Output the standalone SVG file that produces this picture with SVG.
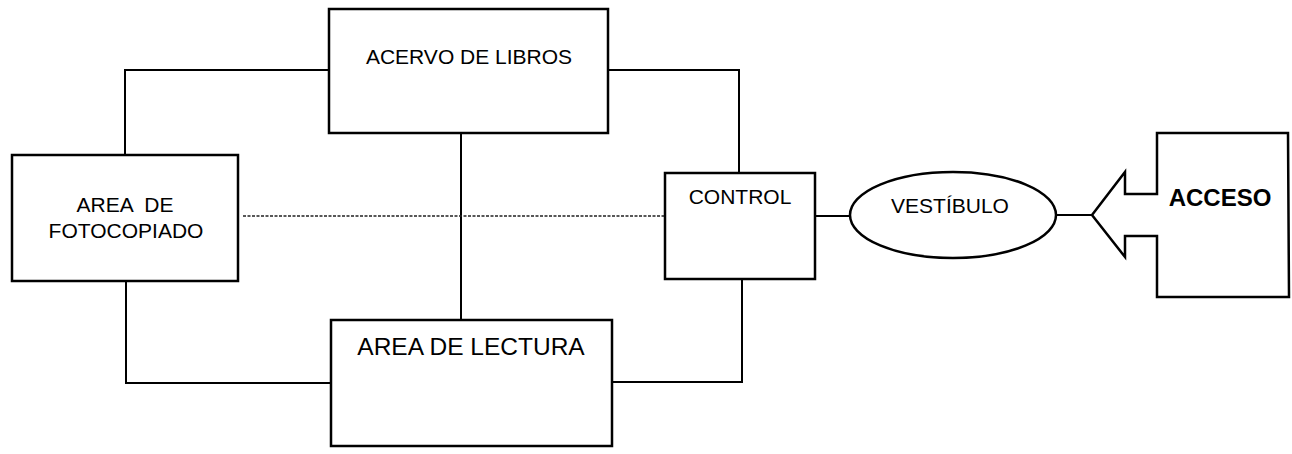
<svg xmlns="http://www.w3.org/2000/svg" width="1292" height="454" viewBox="0 0 1292 454">
<style>
.box{fill:#fff;stroke:#000;stroke-width:2.5}
.ln{fill:none;stroke:#000;stroke-width:2}
.dot{fill:none;stroke:#222;stroke-width:1.5;stroke-dasharray:3 1.5}
text{font-family:"Liberation Sans",Arial,sans-serif;fill:#000;text-anchor:middle}
.t{font-size:21px}
</style>
<rect width="1292" height="454" fill="#fff"/>
<g id="connectors">
<polyline class="ln" points="125,155 125,70 329,70"/>
<polyline class="ln" points="126,281 126,383 331,383"/>
<line class="ln" x1="461" y1="133" x2="461" y2="320"/>
<line class="dot" x1="243" y1="216" x2="665" y2="216"/>
<polyline class="ln" points="608,70 739,70 739,173"/>
<polyline class="ln" points="612,382 742,382 742,279"/>
<line class="ln" x1="815" y1="216" x2="850" y2="216"/>
<line class="ln" x1="1056" y1="215" x2="1092" y2="215"/>
</g>
<g id="fotocopiado">
<rect class="box" x="12" y="155" width="226" height="126"/>
<text class="t" x="125" y="212" xml:space="preserve">AREA  DE</text>
<text class="t" x="126" y="238">FOTOCOPIADO</text>
</g>
<g id="acervo">
<rect class="box" x="329" y="9" width="279" height="124"/>
<text class="t" x="469" y="64">ACERVO DE LIBROS</text>
</g>
<g id="lectura">
<rect class="box" x="331" y="320" width="281" height="126"/>
<text x="471" y="355" font-size="24.5">AREA DE LECTURA</text>
</g>
<g id="control">
<rect class="box" x="665" y="173" width="150" height="106"/>
<text class="t" x="740" y="204">CONTROL</text>
</g>
<g id="vestibulo">
<ellipse class="box" cx="953" cy="215" rx="103" ry="43"/>
<text class="t" x="950" y="213">VESTÍBULO</text>
</g>
<g id="acceso">
<polygon class="box" points="1092,215 1125,172 1125,194 1157,194 1157,133 1288,133 1289,297 1157,297 1157,236 1125,236 1125,257"/>
<text x="1220" y="206" font-size="24" font-weight="bold">ACCESO</text>
</g>
</svg>
